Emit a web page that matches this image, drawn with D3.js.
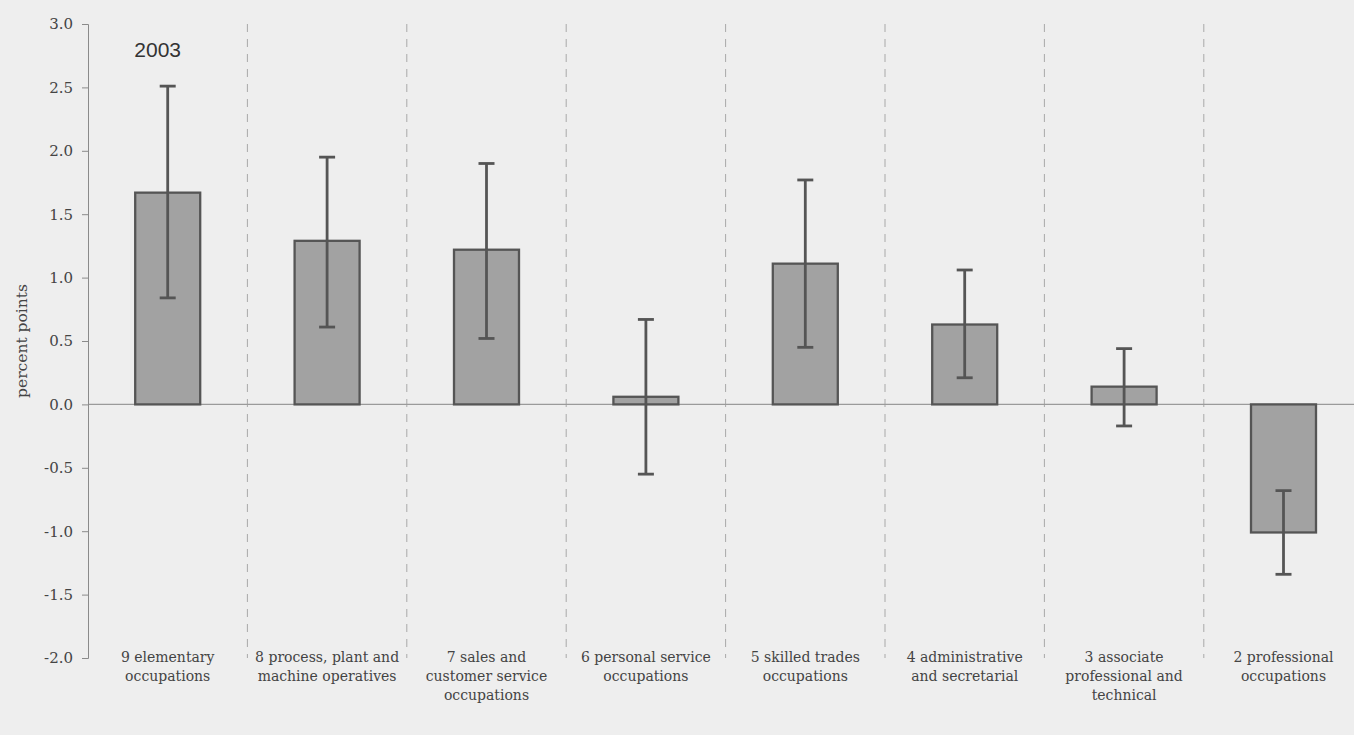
<!DOCTYPE html>
<html>
<head>
<meta charset="utf-8">
<script src="https://cdn.jsdelivr.net/npm/d3@7"></script>
<style>
  html, body { margin: 0; padding: 0; background: #eeeeee; }
  svg { display: block; }
</style>
</head>
<body>
<div id="chart"></div>
<script>
const categories = [
    "9 elementary occupations",
    "8 process, plant and machine operatives",
    "7 sales and customer service occupations",
    "6 personal service occupations",
    "5 skilled trades occupations",
    "4 administrative and secretarial",
    "3 associate professional and technical",
    "2 professional occupations"
];
const labelLines = [
    ["9 elementary", "occupations"],
    ["8 process, plant and", "machine operatives"],
    ["7 sales and", "customer service", "occupations"],
    ["6 personal service", "occupations"],
    ["5 skilled trades", "occupations"],
    ["4 administrative", "and secretarial"],
    ["3 associate", "professional and", "technical"],
    ["2 professional", "occupations"]
];
const values = [1.67, 1.29, 1.22, 0.06, 1.11, 0.63, 0.14, -1.01];
const upper = [2.51, 1.95, 1.90, 0.67, 1.77, 1.06, 0.44, -0.68];
const lower = [0.84, 0.61, 0.52, -0.55, 0.45, 0.21, -0.17, -1.34];
const yTicks = [-2.0, -1.5, -1.0, -0.5, 0.0, 0.5, 1.0, 1.5, 2.0, 2.5, 3.0];
const yearLabel = "2003";

const width = 1354;
const height = 735;
const left = 88;
const step = 159.4;

const svg = d3.select("#chart")
    .append("svg")
    .attr("width", width)
    .attr("height", height);

const x = d3.scaleBand()
    .domain(categories)
    .range([left, left + step * categories.length])
    .padding(0);

const y = d3.scaleLinear()
    .domain([-2, 3])
    .range([658, 24]);

const barWidth = 65;
const data = categories.map((c, i) => ({
    cat: c, value: values[i], hi: upper[i], lo: lower[i], lines: labelLines[i]
}));

// dashed separators between categories
svg.selectAll(".sep")
    .data(categories.slice(1))
    .enter()
    .append("line")
    .attr("x1", d => x(d))
    .attr("x2", d => x(d))
    .attr("y1", y(3))
    .attr("y2", y(-2))
    .attr("stroke", "#a8a8a8")
    .attr("stroke-width", 1)
    .attr("stroke-dasharray", "8,7");

// zero line
svg.append("line")
    .attr("x1", left)
    .attr("x2", width)
    .attr("y1", y(0))
    .attr("y2", y(0))
    .attr("stroke", "#9a9a9a")
    .attr("stroke-width", 1.2);

// y axis
const yAxis = svg.append("g")
    .attr("transform", `translate(${left},0)`)
    .call(d3.axisLeft(y)
        .tickValues(yTicks)
        .tickFormat(d => d.toFixed(1))
        .tickSize(6)
        .tickSizeOuter(6)
        .tickPadding(9));
yAxis.select(".domain").attr("stroke", "#8a8a8a");
yAxis.selectAll(".tick line").attr("stroke", "#8a8a8a");
yAxis.selectAll(".tick text")
    .attr("fill", "#444")
    .style("font-family", "'DejaVu Serif', serif")
    .style("font-size", "15px");

// bars
svg.selectAll(".bar")
    .data(data)
    .enter()
    .append("rect")
    .attr("x", d => x(d.cat) + x.bandwidth() / 2 - barWidth / 2)
    .attr("y", d => y(Math.max(0, d.value)))
    .attr("width", barWidth)
    .attr("height", d => Math.abs(y(d.value) - y(0)))
    .attr("fill", "#a2a2a2")
    .attr("stroke", "#555")
    .attr("stroke-width", 2.3);

// error bars
const capW = 16;
const err = svg.selectAll(".err")
    .data(data)
    .enter()
    .append("g")
    .attr("stroke", "#555")
    .attr("stroke-width", 2.8);
err.append("line")
    .attr("x1", d => x(d.cat) + x.bandwidth() / 2)
    .attr("x2", d => x(d.cat) + x.bandwidth() / 2)
    .attr("y1", d => y(d.hi))
    .attr("y2", d => y(d.lo));
err.append("line")
    .attr("x1", d => x(d.cat) + x.bandwidth() / 2 - capW / 2)
    .attr("x2", d => x(d.cat) + x.bandwidth() / 2 + capW / 2)
    .attr("y1", d => y(d.hi))
    .attr("y2", d => y(d.hi));
err.append("line")
    .attr("x1", d => x(d.cat) + x.bandwidth() / 2 - capW / 2)
    .attr("x2", d => x(d.cat) + x.bandwidth() / 2 + capW / 2)
    .attr("y1", d => y(d.lo))
    .attr("y2", d => y(d.lo));

// category labels
const lab = svg.selectAll(".cat")
    .data(data)
    .enter()
    .append("text")
    .attr("text-anchor", "middle")
    .attr("fill", "#444")
    .style("font-family", "'DejaVu Serif', serif")
    .style("font-size", "14px");
lab.selectAll("tspan")
    .data(d => d.lines.map(l => ({ l, cx: x(d.cat) + x.bandwidth() / 2 })))
    .enter()
    .append("tspan")
    .attr("x", d => d.cx)
    .attr("y", (d, i) => 662 + i * 19)
    .text(d => d.l);

// y axis title
svg.append("text")
    .attr("transform", `translate(27, ${y(0.5)}) rotate(-90)`)
    .attr("text-anchor", "middle")
    .attr("fill", "#444")
    .style("font-family", "'DejaVu Serif', serif")
    .style("font-size", "15.5px")
    .text("percent points");

// year label
svg.append("text")
    .attr("x", x(categories[0]) + x.bandwidth() / 2 - 10)
    .attr("y", 57)
    .attr("text-anchor", "middle")
    .attr("fill", "#333")
    .style("font-family", "'Liberation Sans', Arial, sans-serif")
    .style("font-size", "21px")
    .text(yearLabel);
</script>
</body>
</html>
